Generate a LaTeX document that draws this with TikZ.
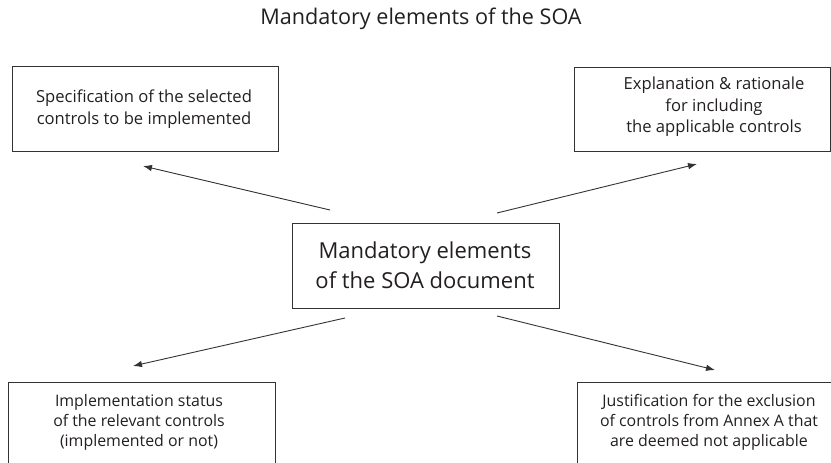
\documentclass[tikz,border=0pt]{standalone}
\usepackage{fontspec}
\setmainfont{Open Sans}
\usetikzlibrary{arrows.meta}
\definecolor{linegray}{HTML}{333333}
\definecolor{textgray}{HTML}{231F20}
\begin{document}
\begin{tikzpicture}[x=1pt,y=-1pt,
  box/.style={draw=linegray, line width=0.9pt, inner sep=0pt},
  boxtext/.style={align=center, text=textgray, inner sep=0pt,
    font=\fontsize{16.6}{21.5}\selectfont},
  tighttext/.style={boxtext, font=\fontsize{15.9}{20}\selectfont},
  link/.style={draw=linegray, line width=0.9pt,
    -{Latex[length=9pt,width=6.5pt]}}]
\useasboundingbox (0,0) rectangle (831,463);
\clip (0,0) rectangle (831,463);

% heading
\node[text=textgray, font=\fontsize{21.6}{24}\selectfont] (title) at (421,19)
  {Mandatory elements of the SOA};

% central box
\node[box, minimum width=267pt, minimum height=85pt] (core) at (425.5,265.5) {};
\node[boxtext, font=\fontsize{22}{30}\selectfont] (coretext) at (425,265)
  {Mandatory elements\\of the SOA document};

% four surrounding boxes
\node[box, minimum width=266pt, minimum height=85pt] (spec) at (145,108.5) {};
\node[boxtext] (spectext) at (144,109)
  {Specification of the selected\\controls to be implemented};

\node[box, minimum width=256pt, minimum height=84pt] (expl) at (702,109) {};
\node[boxtext] (expltext) at (714,107)
  {Explanation \& rationale\\for including\\the applicable controls};

\node[box, minimum width=267pt, minimum height=118pt] (status) at (141.5,441) {};
\node[tighttext] (statustext) at (139,422)
  {Implementation status\\of the relevant controls\\(implemented or not)};

\node[box, minimum width=340pt, minimum height=118pt] (justif) at (747,441) {};
\node[tighttext] (justiftext) at (709,422)
  {Justification for the exclusion\\of controls from Annex A that\\are deemed not applicable};

% arrow ends
\coordinate (specend) at (143,166);
\coordinate (explend) at (697,164);
\coordinate (statusend) at (133,366);
\coordinate (justifend) at (715,370);
\coordinate (corenw) at (330,210);
\coordinate (corene) at (497,213);
\coordinate (coresw) at (345,318);
\coordinate (corese) at (497,316);

\draw[link] (corenw) -- (specend);
\draw[link] (corene) -- (explend);
\draw[link] (coresw) -- (statusend);
\draw[link] (corese) -- (justifend);
\end{tikzpicture}
\end{document}
